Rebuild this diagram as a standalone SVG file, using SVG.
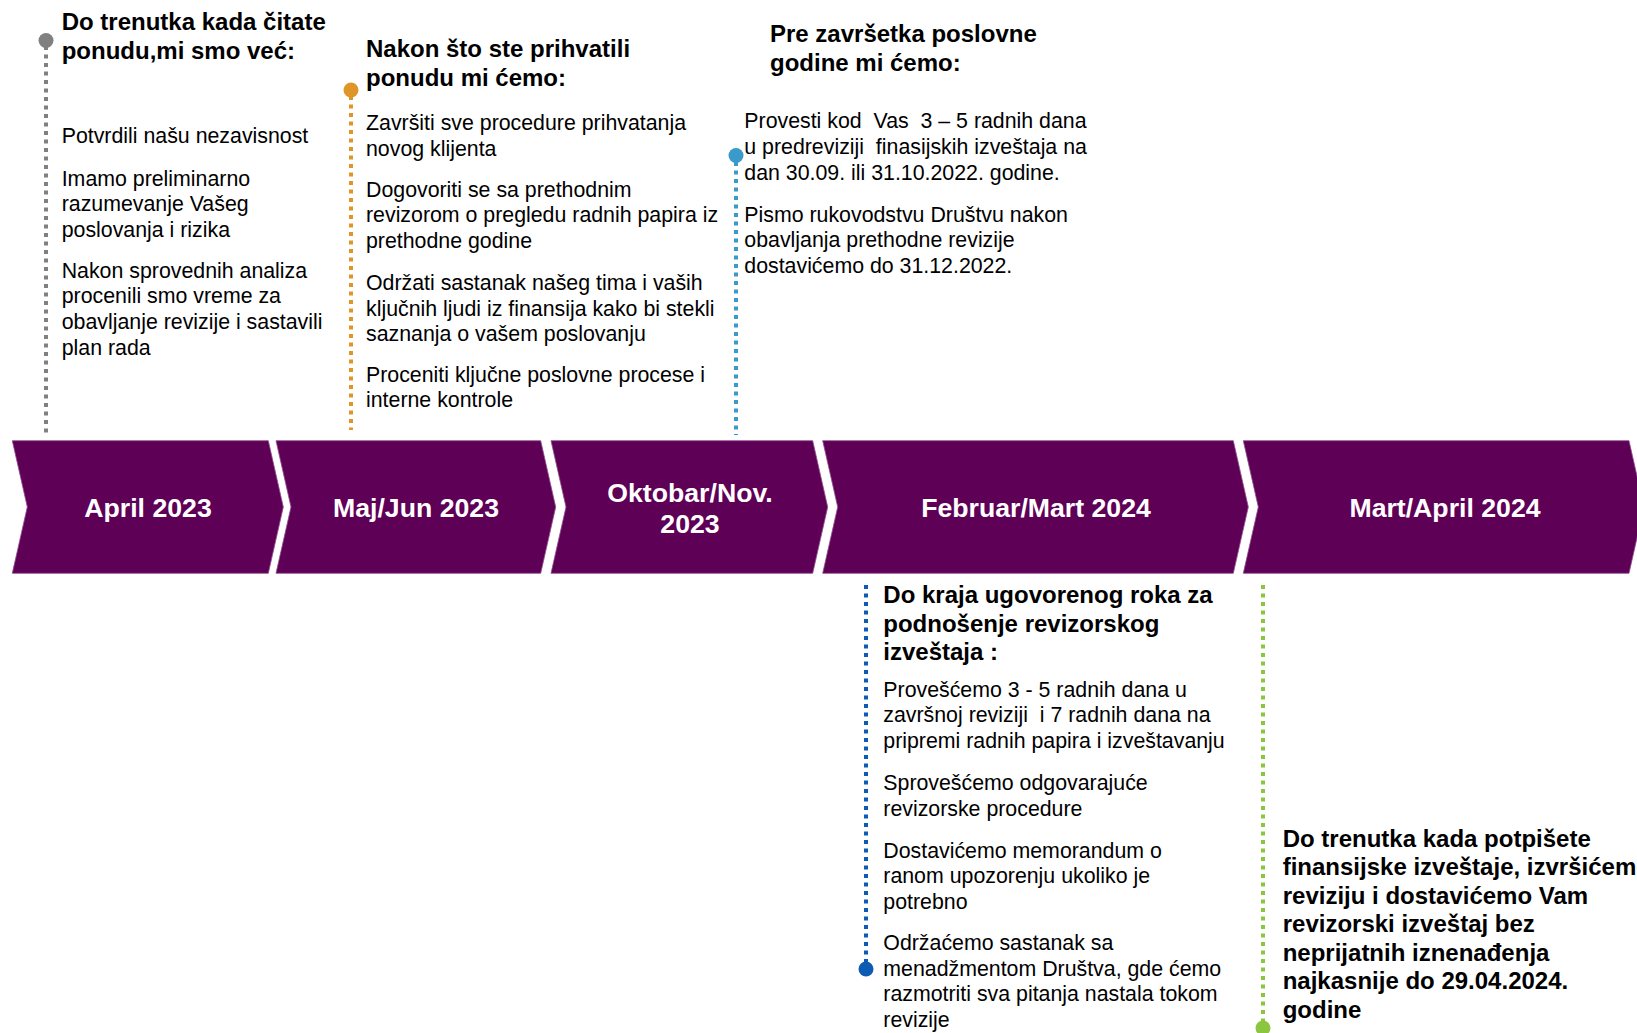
<svg xmlns="http://www.w3.org/2000/svg" width="1637" height="1033" viewBox="0 0 1637 1033">
<style>
text{font-family:"Liberation Sans",Arial,sans-serif;fill:#000}
.t{font-size:24px;font-weight:bold}
.b{font-size:21.33px}
.lbl{font-size:26.67px;font-weight:bold;fill:#fff;text-anchor:middle}
.chev{fill:#5F0057;stroke:#8E4D8A;stroke-width:0.8}
.dl{fill:none;stroke-width:4;stroke-dasharray:4 4.5}
</style>
<rect width="1637" height="1033" fill="#fff"/>
<g id="connectors">
<line class="dl" x1="46" y1="46" x2="46" y2="433" stroke="#808080"/>
<line class="dl" x1="351" y1="96" x2="351" y2="430" stroke="#DF9628"/>
<line class="dl" x1="736" y1="162" x2="736" y2="435" stroke="#3A9BCB"/>
<line class="dl" x1="866" y1="585" x2="866" y2="963" stroke="#0E5BB3"/>
<line class="dl" x1="1263" y1="585" x2="1263" y2="1022" stroke="#8CC63F"/>
<circle cx="46" cy="40.5" r="7.5" fill="#808080"/>
<circle cx="351" cy="90" r="7.5" fill="#DF9628"/>
<circle cx="736" cy="155.5" r="7.5" fill="#3A9BCB"/>
<circle cx="866" cy="969" r="7.5" fill="#0E5BB3"/>
<circle cx="1263" cy="1028" r="7.5" fill="#8CC63F"/>
</g>
<g id="chevron-april-2023">
<polygon class="chev" points="12.3,440.7 268.3,440.7 283.3,507 268.3,573.3 12.3,573.3 27.3,507"/>
<text class="lbl" x="148" y="516.5">April 2023</text>
</g>
<g id="chevron-maj-jun-2023">
<polygon class="chev" points="276,440.7 540.7,440.7 555.7,507 540.7,573.3 276,573.3 291,507"/>
<text class="lbl" x="416" y="516.5">Maj/Jun 2023</text>
</g>
<g id="chevron-oktobar-nov-2023">
<polygon class="chev" points="551,440.7 812.7,440.7 827.7,507 812.7,573.3 551,573.3 566,507"/>
<text class="lbl" x="690" y="501.5">Oktobar/Nov.</text>
<text class="lbl" x="690" y="533">2023</text>
</g>
<g id="chevron-februar-mart-2024">
<polygon class="chev" points="822.7,440.7 1233.3,440.7 1248.3,507 1233.3,573.3 822.7,573.3 837.7,507"/>
<text class="lbl" x="1036" y="516.5">Februar/Mart 2024</text>
</g>
<g id="chevron-mart-april-2024">
<polygon class="chev" points="1243.3,440.7 1629,440.7 1644,507 1629,573.3 1243.3,573.3 1258.3,507"/>
<text class="lbl" x="1445" y="516.5">Mart/April 2024</text>
</g>
<g id="note-april">
<text class="t" x="61.7" y="30">Do trenutka kada čitate</text>
<text class="t" x="61.7" y="59.3">ponudu,mi smo već:</text>
<text class="b" x="61.7" y="143">Potvrdili našu nezavisnost</text>
<text class="b" x="61.7" y="185.5">Imamo preliminarno</text>
<text class="b" x="61.7" y="211.1">razumevanje Vašeg</text>
<text class="b" x="61.7" y="236.7">poslovanja i rizika</text>
<text class="b" x="61.7" y="277.7">Nakon sprovednih analiza</text>
<text class="b" x="61.7" y="303.3">procenili smo vreme za</text>
<text class="b" x="61.7" y="328.9">obavljanje revizije i sastavili</text>
<text class="b" x="61.7" y="354.5">plan rada</text>
</g>
<g id="note-maj-jun">
<text class="t" x="366" y="56.7">Nakon što ste prihvatili</text>
<text class="t" x="366" y="86">ponudu mi ćemo:</text>
<text class="b" x="366" y="130">Završiti sve procedure prihvatanja</text>
<text class="b" x="366" y="155.5">novog klijenta</text>
<text class="b" x="366" y="196.7">Dogovoriti se sa prethodnim</text>
<text class="b" x="366" y="222.2">revizorom o pregledu radnih papira iz</text>
<text class="b" x="366" y="247.7">prethodne godine</text>
<text class="b" x="366" y="290">Održati sastanak našeg tima i vaših</text>
<text class="b" x="366" y="315.5">ključnih ljudi iz finansija kako bi stekli</text>
<text class="b" x="366" y="341">saznanja o vašem poslovanju</text>
<text class="b" x="366" y="381.7">Proceniti ključne poslovne procese i</text>
<text class="b" x="366" y="407.3">interne kontrole</text>
</g>
<g id="note-oktobar">
<text class="t" x="770" y="41.7">Pre završetka poslovne</text>
<text class="t" x="770" y="70.5">godine mi ćemo:</text>
<text class="b" x="744.3" y="128.3" xml:space="preserve">Provesti kod  Vas  3 – 5 radnih dana</text>
<text class="b" x="744.3" y="153.9" xml:space="preserve">u predreviziji  finasijskih izveštaja na</text>
<text class="b" x="744.3" y="179.5">dan 30.09. ili 31.10.2022. godine.</text>
<text class="b" x="744.3" y="221.7">Pismo rukovodstvu Društvu nakon</text>
<text class="b" x="744.3" y="247.2">obavljanja prethodne revizije</text>
<text class="b" x="744.3" y="272.7">dostavićemo do 31.12.2022.</text>
</g>
<g id="note-februar">
<text class="t" x="883.3" y="603.3">Do kraja ugovorenog roka za</text>
<text class="t" x="883.3" y="631.8">podnošenje revizorskog</text>
<text class="t" x="883.3" y="660.3">izveštaja :</text>
<text class="b" x="883.3" y="696.7">Provešćemo 3 - 5 radnih dana u</text>
<text class="b" x="883.3" y="722.2" xml:space="preserve">završnoj reviziji  i 7 radnih dana na</text>
<text class="b" x="883.3" y="747.7">pripremi radnih papira i izveštavanju</text>
<text class="b" x="883.3" y="790">Sprovešćemo odgovarajuće</text>
<text class="b" x="883.3" y="815.5">revizorske procedure</text>
<text class="b" x="883.3" y="857.5">Dostavićemo memorandum o</text>
<text class="b" x="883.3" y="883">ranom upozorenju ukoliko je</text>
<text class="b" x="883.3" y="908.5">potrebno</text>
<text class="b" x="883.3" y="950">Održaćemo sastanak sa</text>
<text class="b" x="883.3" y="975.5">menadžmentom Društva, gde ćemo</text>
<text class="b" x="883.3" y="1001">razmotriti sva pitanja nastala tokom</text>
<text class="b" x="883.3" y="1026.5">revizije</text>
</g>
<g id="note-mart-april">
<text class="t" x="1282.7" y="846.7">Do trenutka kada potpišete</text>
<text class="t" x="1282.7" y="875.2">finansijske izveštaje, izvršićemo</text>
<text class="t" x="1282.7" y="903.7">reviziju i dostavićemo Vam</text>
<text class="t" x="1282.7" y="932.2">revizorski izveštaj bez</text>
<text class="t" x="1282.7" y="960.7">neprijatnih iznenađenja</text>
<text class="t" x="1282.7" y="989.2">najkasnije do 29.04.2024.</text>
<text class="t" x="1282.7" y="1017.7">godine</text>
</g>
</svg>
